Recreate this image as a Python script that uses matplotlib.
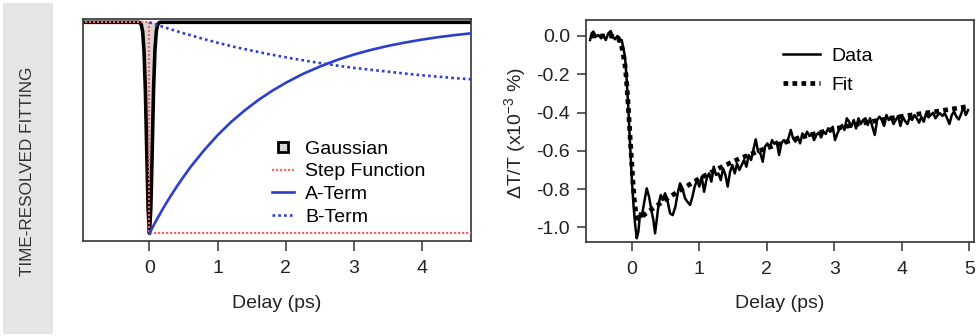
import matplotlib
matplotlib.use("Agg")
import matplotlib.pyplot as plt
from matplotlib.lines import Line2D
from matplotlib.patches import Rectangle

plt.rcParams['font.family'] = ['Liberation Sans', 'DejaVu Sans']
plt.rcParams['mathtext.default'] = 'regular'

# ---------------- left panel: fit components ----------------
gauss_x = [-1.0, -0.16, -0.14, -0.12, -0.10, -0.08, -0.06, -0.04, -0.02, 0.0,
           0.02, 0.04, 0.06, 0.08, 0.10, 0.12, 0.14, 0.16, 4.75]
gauss_y = [0.0, 0.0, -0.002, -0.011, -0.044, -0.135, -0.32, -0.61, -0.88, -1.0,
           -0.88, -0.61, -0.32, -0.135, -0.044, -0.011, -0.002, 0.0, 0.0]

step_x = [-1.0, 0.0, 0.0, 4.75]
step_y = [0.0, 0.0, -1.0, -1.0]

a_x = [0.0, 0.05, 0.1, 0.2, 0.3, 0.4, 0.5, 0.6, 0.8, 1.0, 1.2, 1.4, 1.6, 1.8,
       2.0, 2.25, 2.5, 2.75, 3.0, 3.25, 3.5, 3.75, 4.0, 4.25, 4.5, 4.73]
a_y = [-1.0, -0.969, -0.939, -0.882, -0.829, -0.779, -0.732, -0.687, -0.607,
       -0.535, -0.472, -0.417, -0.368, -0.325, -0.287, -0.245, -0.210, -0.179,
       -0.153, -0.131, -0.112, -0.096, -0.082, -0.070, -0.060, -0.052]

b_x = [0.0, 0.25, 0.5, 0.75, 1.0, 1.25, 1.5, 1.75, 2.0, 2.25, 2.5, 2.75, 3.0,
       3.25, 3.5, 3.75, 4.0, 4.25, 4.5, 4.73]
b_y = [0.0, -0.027, -0.052, -0.075, -0.097, -0.117, -0.134, -0.151, -0.166,
       -0.180, -0.193, -0.205, -0.216, -0.225, -0.234, -0.243, -0.251, -0.258,
       -0.265, -0.270]

left_ticks = [0, 1, 2, 3, 4]
left_labels = ["Gaussian", "Step Function", "A-Term", "B-Term"]

# ---------------- right panel: data and fit ----------------
data_x = [-0.617, -0.593, -0.568, -0.528, -0.494, -0.454, -0.420, -0.385, -0.346,
          -0.311, -0.281, -0.247, -0.212, -0.183, -0.148, -0.123, -0.099, -0.074,
          -0.049, -0.025, 0.0, 0.025, 0.049, 0.074, 0.099, 0.123, 0.148, 0.183,
          0.222, 0.257, 0.291, 0.321, 0.346, 0.370, 0.400, 0.430, 0.459, 0.494,
          0.528, 0.568, 0.607, 0.647, 0.681, 0.716, 0.751, 0.790, 0.825, 0.864,
          0.899, 0.933, 0.968, 1.002, 1.037, 1.072, 1.111, 1.146, 1.180, 1.215,
          1.249, 1.284, 1.319, 1.353, 1.388, 1.422, 1.457, 1.491, 1.526, 1.560,
          1.595, 1.630, 1.664, 1.699, 1.733, 1.768, 1.802, 1.837, 1.872, 1.906,
          1.941, 1.975, 2.010, 2.044, 2.079, 2.114, 2.148, 2.183, 2.217, 2.252,
          2.286, 2.321, 2.356, 2.390, 2.425, 2.459, 2.494, 2.528, 2.563, 2.598,
          2.632, 2.667, 2.701, 2.736, 2.770, 2.805, 2.840, 2.874, 2.909, 2.943,
          2.978, 3.012, 3.047, 3.081, 3.116, 3.151, 3.185, 3.220, 3.254, 3.289,
          3.323, 3.358, 3.393, 3.427, 3.462, 3.496, 3.531, 3.565, 3.600, 3.635,
          3.669, 3.704, 3.738, 3.773, 3.807, 3.842, 3.877, 3.911, 3.946, 3.980,
          4.015, 4.049, 4.084, 4.119, 4.153, 4.188, 4.222, 4.257, 4.291, 4.326,
          4.360, 4.395, 4.430, 4.464, 4.499, 4.533, 4.568, 4.602, 4.637, 4.672,
          4.706, 4.741, 4.775, 4.810, 4.844, 4.879, 4.914, 4.948, 4.983]
data_y = [-0.021, 0.014, 0.023, -0.003, 0.005, -0.012, 0.005, -0.021, 0.014,
          0.026, -0.003, -0.017, 0.0, -0.030, -0.021, -0.064, -0.108, -0.230,
          -0.387, -0.561, -0.735, -0.875, -0.979, -1.057, -1.023, -0.927, -0.944,
          -0.875, -0.796, -0.840, -0.909, -0.962, -1.031, -0.962, -0.875, -0.831,
          -0.857, -0.822, -0.857, -0.927, -0.936, -0.892, -0.822, -0.770, -0.796,
          -0.848, -0.866, -0.883, -0.840, -0.787, -0.753, -0.787, -0.735, -0.814,
          -0.744, -0.718, -0.761, -0.683, -0.726, -0.718, -0.753, -0.692, -0.726,
          -0.787, -0.709, -0.674, -0.718, -0.666, -0.700, -0.674, -0.648, -0.683,
          -0.622, -0.648, -0.596, -0.540, -0.605, -0.613, -0.657, -0.578, -0.561,
          -0.587, -0.544, -0.564, -0.552, -0.622, -0.561, -0.544, -0.561, -0.535,
          -0.491, -0.535, -0.552, -0.526, -0.561, -0.509, -0.526, -0.500, -0.523,
          -0.509, -0.544, -0.517, -0.505, -0.530, -0.500, -0.512, -0.483, -0.500,
          -0.474, -0.544, -0.509, -0.483, -0.465, -0.491, -0.430, -0.448, -0.474,
          -0.439, -0.483, -0.430, -0.460, -0.439, -0.430, -0.465, -0.430, -0.474,
          -0.517, -0.439, -0.422, -0.439, -0.470, -0.413, -0.439, -0.422, -0.460,
          -0.439, -0.418, -0.470, -0.422, -0.444, -0.460, -0.422, -0.439, -0.413,
          -0.430, -0.453, -0.422, -0.448, -0.404, -0.425, -0.413, -0.401, -0.430,
          -0.413, -0.404, -0.418, -0.404, -0.430, -0.460, -0.413, -0.395, -0.422,
          -0.436, -0.408, -0.369, -0.413, -0.387]

fit_x = [-0.6, -0.3, -0.2, -0.15, -0.1, -0.08, -0.06, -0.04, -0.02, 0.0, 0.02,
         0.04, 0.06, 0.08, 0.1, 0.15, 0.2, 0.3, 0.4, 0.5, 0.7, 1.0, 1.3, 1.6,
         2.0, 2.5, 3.0, 3.5, 4.0, 4.5, 4.95]
fit_y = [0.0, 0.0, -0.01, -0.05, -0.15, -0.22, -0.32, -0.43, -0.55, -0.66, -0.77,
         -0.86, -0.92, -0.95, -0.955, -0.945, -0.93, -0.905, -0.88, -0.855, -0.81,
         -0.745, -0.69, -0.64, -0.585, -0.53, -0.485, -0.45, -0.42, -0.395, -0.37]

right_xticks = [0, 1, 2, 3, 4, 5]
right_yticks = [0.0, -0.2, -0.4, -0.6, -0.8, -1.0]
right_ytick_labels = ["0.0", "-0.2", "-0.4", "-0.6", "-0.8", "-1.0"]

BLUE = '#2b3ecf'
RED = '#f06a6a'
SPINE = '#333333'
FS = 14
FIT_LS = (0, (1.0, 0.9))

fig = plt.figure(figsize=(9.76, 3.36), dpi=100)

# side banner
fig.patches.append(Rectangle((3 / 976, 0.006), 50 / 976, 0.985, transform=fig.transFigure,
                             facecolor='#e5e5e5', edgecolor='none', zorder=0))
fig.text(28 / 976, 1 - 171 / 336, "TIME-RESOLVED FITTING", rotation=90,
         ha='center', va='center', fontsize=12.3, color='#333333',
         family=['Liberation Sans'])

# ---- left axes
ax1 = fig.add_axes([82.7 / 976, 1 - 240.7 / 336, 388.3 / 976, 221.7 / 336])
ax1.fill_between(gauss_x, gauss_y, 0, facecolor='#d6d6d6', edgecolor='none', zorder=1)
ax1.plot(gauss_x, gauss_y, color='black', lw=2.6, zorder=2)
ax1.plot(step_x, step_y, color=RED, lw=1.6, linestyle=(0, (1, 0.8)), zorder=3)
ax1.plot(a_x, a_y, color=BLUE, lw=1.9, zorder=4)
ax1.plot(b_x, b_y, color=BLUE, lw=1.9, linestyle=(0, (1, 1.2)), zorder=4)
ax1.set_xlim(-0.98, 4.72)
ax1.set_ylim(-1.035, 0.0156)
ax1.set_xticks(left_ticks)
ax1.set_yticks([])
ax1.tick_params(axis='x', direction='out', length=7, width=1.1, color=SPINE,
                labelsize=FS, pad=7, labelcolor='#222222')
for s in ax1.spines.values():
    s.set_color(SPINE)
    s.set_linewidth(1.2)
ax1.set_xlabel("Delay (ps)", fontsize=FS, color='#222222', va='center')
ax1.xaxis.set_label_coords(0.5, (240.7 - 303) / 221.7)

h1 = [Line2D([], [], marker='s', markersize=6.5, markerfacecolor='#d6d6d6',
             markeredgecolor='black', markeredgewidth=2, linestyle='none'),
      Line2D([], [], color=RED, lw=1.6, linestyle=(0, (1, 0.8))),
      Line2D([], [], color=BLUE, lw=1.9),
      Line2D([], [], color=BLUE, lw=1.9, linestyle=(0, (1, 1.2)))]
ax1.legend(h1, left_labels, loc='upper left', bbox_to_anchor=(0.4875, 0.4545),
           frameon=False, fontsize=FS, borderpad=0, borderaxespad=0,
           handlelength=1.15, handletextpad=0.55, labelspacing=0.27)

# ---- right axes
ax2 = fig.add_axes([586 / 976, 1 - 242.3 / 336, 388 / 976, 222.3 / 336])
ax2.plot(data_x, data_y, color='black', lw=1.8, zorder=3)
ax2.plot(fit_x, fit_y, color='black', lw=3.4, linestyle=FIT_LS,
         dash_capstyle='butt', zorder=2)
ax2.set_xlim(-0.677, 5.07)
ax2.set_ylim(-1.078, 0.0836)
ax2.set_xticks(right_xticks)
ax2.set_yticks(right_yticks)
ax2.set_yticklabels(right_ytick_labels)
ax2.tick_params(axis='both', direction='out', length=6.5, width=1.1, color=SPINE,
                labelsize=FS, labelcolor='#222222')
ax2.tick_params(axis='x', pad=7)
ax2.tick_params(axis='y', pad=5)
for s in ax2.spines.values():
    s.set_color(SPINE)
    s.set_linewidth(1.2)
ax2.set_xlabel("Delay (ps)", fontsize=FS, color='#222222', va='center')
ax2.xaxis.set_label_coords(0.5, (242.3 - 303) / 222.3)
ax2.set_ylabel("ΔT/T (x10$^{-3}$ %)", fontsize=FS, color='#222222', va='center')
ax2.yaxis.set_label_coords(-71 / 388, 0.49)

h2 = [Line2D([], [], color='black', lw=1.8),
      Line2D([], [], color='black', lw=3.4, linestyle=FIT_LS, dash_capstyle='butt')]
ax2.legend(h2, ["Data", "Fit"], loc='upper left', bbox_to_anchor=(0.508, 0.878),
           frameon=False, fontsize=FS, borderpad=0, borderaxespad=0,
           handlelength=1.9, handletextpad=0.6, labelspacing=0.6)

fig.savefig("out.png", dpi=100)
